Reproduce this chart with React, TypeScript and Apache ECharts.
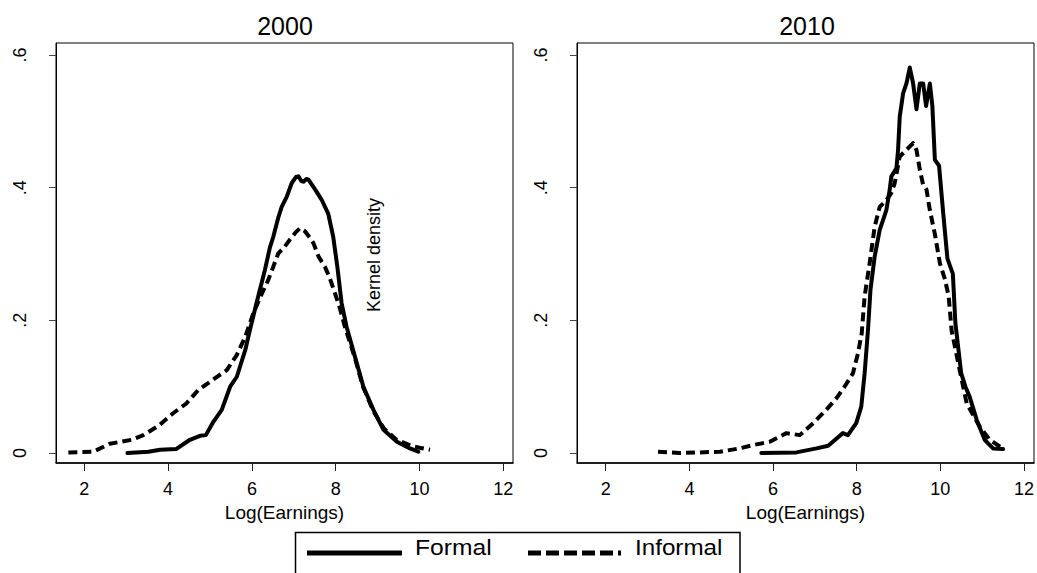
import React, { useEffect, useRef } from "react";
import * as echarts from "echarts";

// 2000 panel
const formal2000X = [3.03, 3.53, 3.81, 4.19, 4.52, 4.76, 4.9, 5.08, 5.28, 5.48, 5.64, 5.84, 5.95, 6.11, 6.31, 6.43, 6.51, 6.63, 6.71, 6.83, 6.95, 7.05, 7.11, 7.18, 7.23, 7.3, 7.35, 7.51, 7.62, 7.67, 7.82, 7.94, 8.04, 8.14, 8.26, 8.46, 8.66, 8.9, 9.14, 9.46, 9.77, 9.97];
const formal2000Y = [0.0, 0.002, 0.005, 0.006, 0.02, 0.026, 0.027, 0.047, 0.065, 0.1, 0.115, 0.155, 0.185, 0.226, 0.276, 0.31, 0.326, 0.355, 0.371, 0.386, 0.407, 0.416, 0.417, 0.41, 0.409, 0.413, 0.412, 0.397, 0.386, 0.381, 0.361, 0.326, 0.28, 0.226, 0.19, 0.145, 0.1, 0.065, 0.035, 0.017, 0.007, 0.002];
const informal2000X = [1.62, 2.21, 2.61, 3.13, 3.41, 3.77, 4.12, 4.44, 4.72, 5.08, 5.4, 5.64, 5.84, 6.03, 6.2, 6.39, 6.51, 6.63, 6.77, 6.91, 7.05, 7.15, 7.27, 7.39, 7.47, 7.59, 7.74, 7.85, 7.98, 8.1, 8.22, 8.45, 8.65, 8.9, 9.15, 9.45, 9.8, 10.0, 10.25];
const informal2000Y = [0.001, 0.002, 0.014, 0.02, 0.027, 0.041, 0.06, 0.075, 0.095, 0.111, 0.125, 0.148, 0.175, 0.21, 0.235, 0.261, 0.281, 0.301, 0.31, 0.322, 0.333, 0.339, 0.334, 0.324, 0.316, 0.296, 0.281, 0.265, 0.241, 0.218, 0.19, 0.145, 0.1, 0.063, 0.037, 0.02, 0.011, 0.008, 0.005];

// 2010 panel
const formal2010X = [5.72, 6.56, 7.04, 7.32, 7.52, 7.67, 7.79, 7.99, 8.11, 8.19, 8.27, 8.33, 8.43, 8.55, 8.71, 8.79, 8.83, 8.95, 8.99, 9.03, 9.11, 9.19, 9.27, 9.35, 9.43, 9.51, 9.59, 9.66, 9.75, 9.81, 9.87, 9.97, 10.07, 10.17, 10.3, 10.36, 10.5, 10.6, 10.7, 10.87, 11.06, 11.26, 11.5];
const formal2010Y = [0.0, 0.001, 0.007, 0.011, 0.022, 0.03, 0.027, 0.045, 0.07, 0.12, 0.185, 0.246, 0.296, 0.336, 0.366, 0.397, 0.417, 0.429, 0.457, 0.507, 0.542, 0.557, 0.581, 0.557, 0.518, 0.557, 0.557, 0.523, 0.557, 0.523, 0.442, 0.433, 0.361, 0.293, 0.27, 0.196, 0.12, 0.1, 0.085, 0.05, 0.02, 0.007, 0.006];
const informal2010X = [3.25, 3.77, 4.25, 4.73, 5.2, 5.52, 5.92, 6.32, 6.64, 6.96, 7.27, 7.51, 7.71, 7.91, 8.03, 8.12, 8.19, 8.31, 8.43, 8.55, 8.71, 8.83, 8.91, 9.03, 9.19, 9.35, 9.43, 9.51, 9.59, 9.67, 9.75, 9.87, 9.99, 10.11, 10.2, 10.27, 10.43, 10.63, 10.94, 11.18, 11.42, 11.5];
const informal2010Y = [0.002, 0.0, 0.001, 0.002, 0.007, 0.012, 0.017, 0.03, 0.027, 0.045, 0.065, 0.082, 0.1, 0.12, 0.15, 0.18, 0.236, 0.286, 0.341, 0.371, 0.381, 0.392, 0.407, 0.447, 0.457, 0.467, 0.457, 0.427, 0.404, 0.397, 0.366, 0.33, 0.286, 0.262, 0.236, 0.185, 0.135, 0.075, 0.04, 0.02, 0.01, 0.007];

const panelTitles = ["2000", "2010"];
const xTicks = [2, 4, 6, 8, 10, 12];
const yTicks = [0, 0.2, 0.4, 0.6];
const seriesNames = ["Formal", "Informal"];
const xAxisTitle = "Log(Earnings)";
const yAxisTitle = "Kernel density";

const zip = (xs: number[], ys: number[]) => xs.map((x, i) => [x, ys[i]]);
const FONT = "'Liberation Sans', Arial, sans-serif";

export default function App() {
  const ref = useRef<HTMLDivElement>(null);
  useEffect(() => {
    if (!ref.current) return;
    const chart = echarts.init(ref.current, null, { renderer: "svg" });
    const grids = [
      { left: 56, top: 43, width: 457, height: 420 },
      { left: 577, top: 43, width: 457, height: 420 },
    ];
    const xRanges = [
      [1.325, 12.23],
      [1.313, 12.24],
    ];
    const mkX = (i: number) => ({
      type: "value",
      gridIndex: i,
      min: xRanges[i][0],
      max: xRanges[i][1],
      name: xAxisTitle,
      nameLocation: "middle",
      nameGap: 31,
      nameTextStyle: { fontSize: 19, color: "#000", fontFamily: FONT },
      axisLine: { show: true, onZero: false, lineStyle: { color: "#000", width: 1.5 } },
      axisTick: { show: true, length: 8, customValues: xTicks, lineStyle: { color: "#222" } },
      axisLabel: { customValues: xTicks, fontSize: 18, color: "#000", fontFamily: FONT, margin: 17 },
      splitLine: { show: false },
    });
    const mkY = (i: number) => ({
      type: "value",
      gridIndex: i,
      min: -0.015,
      max: 0.618,
      axisLine: { show: true, onZero: false, lineStyle: { color: "#000" } },
      axisTick: { show: true, length: 7, customValues: yTicks, lineStyle: { color: "#444" } },
      axisLabel: {
        customValues: yTicks,
        rotate: 90,
        fontSize: 18,
        color: "#000",
        fontFamily: FONT,
        margin: 27,
        formatter: (v: number) => (v === 0 ? "0" : "." + Math.round(v * 10)),
      },
      splitLine: { show: false },
    });
    const solid = { color: "#000", width: 4, type: "solid", join: "round", cap: "round" };
    const dashed = { color: "#000", width: 4, type: [9, 5], join: "round" };
    const mkSeries = (name: string, data: number[][], idx: number, style: any) => ({
      type: "line",
      name,
      xAxisIndex: idx,
      yAxisIndex: idx,
      data,
      showSymbol: false,
      symbol: "none",
      lineStyle: style,
      z: 3,
    });
    const legX = 295.5;
    chart.setOption({
      animation: false,
      backgroundColor: "#fff",
      grid: grids.map((g) => ({ ...g, show: true, borderColor: "#000", borderWidth: 1, backgroundColor: "#fff" })),
      xAxis: [mkX(0), mkX(1)],
      yAxis: [mkY(0), mkY(1)],
      series: [
        mkSeries(seriesNames[0], zip(formal2000X, formal2000Y), 0, solid),
        mkSeries(seriesNames[1], zip(informal2000X, informal2000Y), 0, dashed),
        mkSeries(seriesNames[0], zip(formal2010X, formal2010Y), 1, solid),
        mkSeries(seriesNames[1], zip(informal2010X, informal2010Y), 1, dashed),
      ],
      graphic: [
        {
          type: "text",
          x: 285,
          y: 26,
          style: { text: panelTitles[0], fontSize: 25, fill: "#000", fontFamily: FONT, align: "center", verticalAlign: "middle" },
        },
        {
          type: "text",
          x: 807,
          y: 26,
          style: { text: panelTitles[1], fontSize: 25, fill: "#000", fontFamily: FONT, align: "center", verticalAlign: "middle" },
        },
        {
          type: "text",
          x: 374,
          y: 255,
          rotation: Math.PI / 2,
          style: { text: yAxisTitle, fontSize: 18, fill: "#000", fontFamily: FONT, align: "center", verticalAlign: "middle" },
        },
        {
          type: "rect",
          shape: { x: legX, y: 532.5, width: 444.5, height: 60 },
          style: { fill: "#fff", stroke: "#000", lineWidth: 1.5 },
        },
        {
          type: "line",
          shape: { x1: 307, y1: 553, x2: 402, y2: 553 },
          style: { stroke: "#000", lineWidth: 5 },
        },
        {
          type: "text",
          x: 415,
          y: 547,
          scaleX: 1.12,
          style: { text: seriesNames[0], fontSize: 22, fill: "#000", fontFamily: FONT, align: "left", verticalAlign: "middle" },
        },
        {
          type: "line",
          shape: { x1: 528, y1: 553, x2: 621, y2: 553 },
          style: { stroke: "#000", lineWidth: 5, lineDash: [13, 5] },
        },
        {
          type: "text",
          x: 635,
          y: 547,
          scaleX: 1.1,
          style: { text: seriesNames[1], fontSize: 22, fill: "#000", fontFamily: FONT, align: "left", verticalAlign: "middle" },
        },
      ],
    });
    return () => chart.dispose();
  }, []);
  return (
    <div
      ref={ref}
      style={{ position: "fixed", left: 0, top: 0, width: 1037, height: 573, background: "#fff" }}
    />
  );
}
